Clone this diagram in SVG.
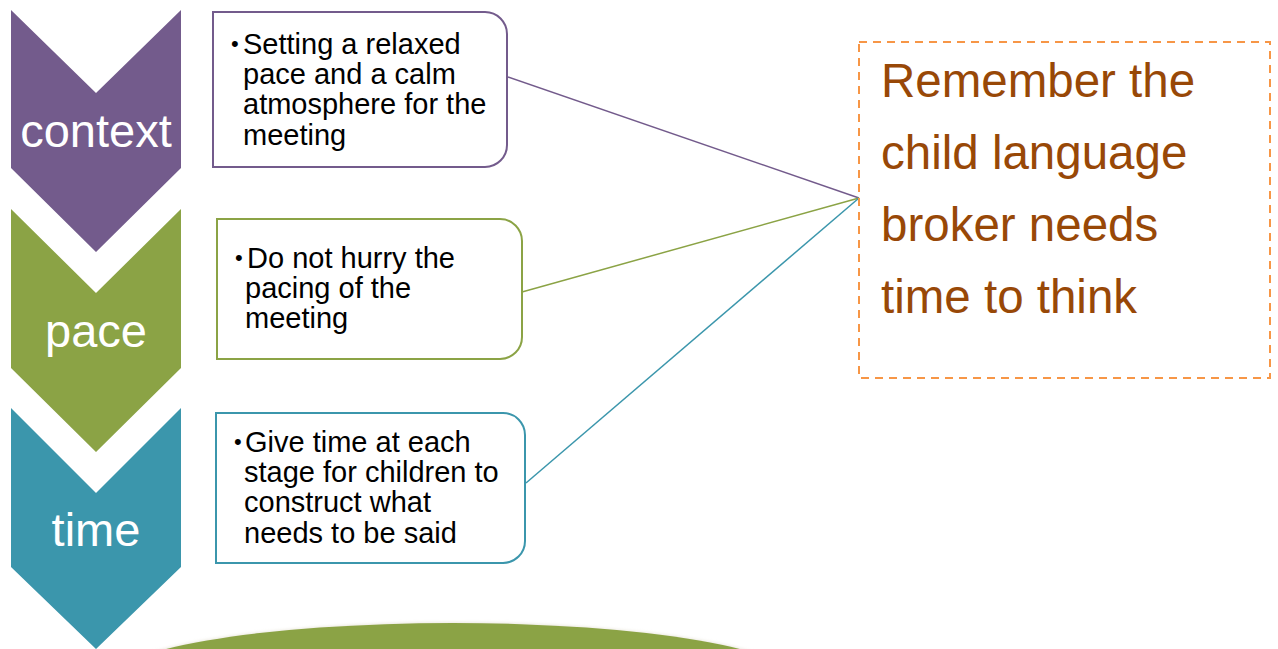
<svg xmlns="http://www.w3.org/2000/svg" width="1278" height="649" viewBox="0 0 1278 649">
<style>
.chev-label{font-family:"Liberation Sans",Arial,sans-serif;font-size:47px;fill:#ffffff;text-anchor:middle}
.box-text{font-family:"Liberation Sans",Arial,sans-serif;font-size:29px;fill:#000000}
.bullet{font-family:"Liberation Sans",Arial,sans-serif;font-size:22px;fill:#000000}
.box{fill:#ffffff;stroke-width:2}
.note{font-family:"Liberation Sans",Arial,sans-serif;font-size:47.5px;fill:#984807}
</style>
<defs>
<filter id="glow" x="-10%" y="-50%" width="120%" height="200%">
<feGaussianBlur stdDeviation="1.5"/>
</filter>
</defs>
<rect width="1278" height="649" fill="#ffffff"/>
<g id="ground">
<ellipse cx="453" cy="683" rx="349" ry="61" fill="#d8d2c0" opacity="0.5" filter="url(#glow)"/>
<ellipse cx="453" cy="683" rx="348" ry="60" fill="#8BA345"/>
</g>
<g id="connectors" fill="none" stroke-width="1.5">
<line x1="508" y1="77" x2="859" y2="198" stroke="#735B8C"/>
<line x1="522" y1="292" x2="859" y2="198" stroke="#8BA345"/>
<line x1="526" y1="483" x2="859" y2="198" stroke="#3B96AC"/>
</g>
<g id="chevron-context">
<path d="M11,10 L96,93 L181,10 L181,168 L96,252 L11,168 Z" fill="#735B8C"/>
<text class="chev-label" x="96" y="147">context</text>
</g>
<g id="chevron-pace">
<path d="M11,209 L96,293 L181,209 L181,368 L96,452 L11,368 Z" fill="#8BA345"/>
<text class="chev-label" x="96" y="347">pace</text>
</g>
<g id="chevron-time">
<path d="M11,408 L96,493 L181,408 L181,567 L96,649 L11,567 Z" fill="#3B96AC"/>
<text class="chev-label" x="96" y="546">time</text>
</g>
<g id="box-context">
<path class="box" d="M213,12 H485 A22,22 0 0 1 507,34 V145 A22,22 0 0 1 485,167 H213 Z" stroke="#735B8C"/>
<text class="bullet" x="231" y="51">•</text>
<text class="box-text" x="243" y="54">Setting a relaxed</text>
<text class="box-text" x="243" y="84">pace and a calm</text>
<text class="box-text" x="243" y="114">atmosphere for the</text>
<text class="box-text" x="243" y="145">meeting</text>
</g>
<g id="box-pace">
<path class="box" d="M217,219 H500 A22,22 0 0 1 522,241 V337 A22,22 0 0 1 500,359 H217 Z" stroke="#8BA345"/>
<text class="bullet" x="235" y="265">•</text>
<text class="box-text" x="247" y="268">Do not hurry the</text>
<text class="box-text" x="245" y="298">pacing of the</text>
<text class="box-text" x="245" y="328">meeting</text>
</g>
<g id="box-time">
<path class="box" d="M216,413 H503 A22,22 0 0 1 525,435 V541 A22,22 0 0 1 503,563 H216 Z" stroke="#3B96AC"/>
<text class="bullet" x="234" y="449">•</text>
<text class="box-text" x="245" y="452">Give time at each</text>
<text class="box-text" x="244" y="482">stage for children to</text>
<text class="box-text" x="244" y="512">construct what</text>
<text class="box-text" x="244" y="543">needs to be said</text>
</g>
<g id="note">
<rect x="859" y="42" width="411" height="336" fill="none" stroke="#F79646" stroke-width="2" stroke-dasharray="8,6"/>
<text class="note" x="881" y="97">Remember the</text>
<text class="note" x="881" y="169">child language</text>
<text class="note" x="881" y="241">broker needs</text>
<text class="note" x="881" y="313">time to think</text>
</g>
</svg>
